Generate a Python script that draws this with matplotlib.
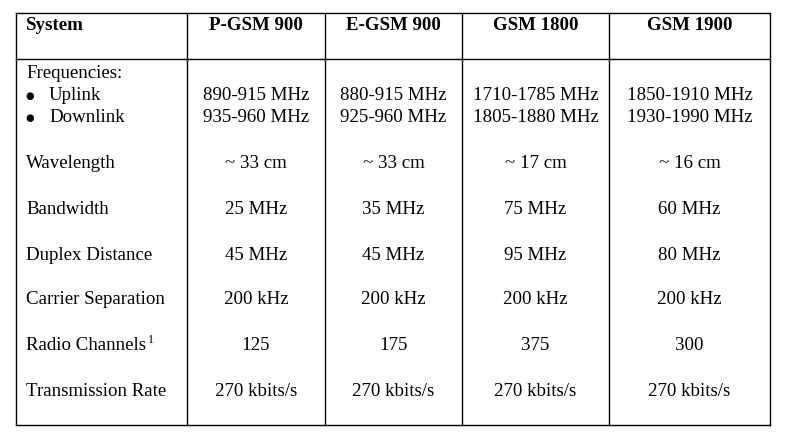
import matplotlib.pyplot as plt

# table contents
systems = ["P-GSM 900", "E-GSM 900", "GSM 1800", "GSM 1900"]
uplink = ["890-915 MHz", "880-915 MHz", "1710-1785 MHz", "1850-1910 MHz"]
downlink = ["935-960 MHz", "925-960 MHz", "1805-1880 MHz", "1930-1990 MHz"]
row_labels = ["Wavelength", "Bandwidth", "Duplex Distance", "Carrier Separation",
              "Radio Channels", "Transmission Rate"]
wavelength = ["~ 33 cm", "~ 33 cm", "~ 17 cm", "~ 16 cm"]
bandwidth = ["25 MHz", "35 MHz", "75 MHz", "60 MHz"]
duplex = ["45 MHz", "45 MHz", "95 MHz", "80 MHz"]
carrier = ["200 kHz", "200 kHz", "200 kHz", "200 kHz"]
channels = ["125", "175", "375", "300"]
rate = ["270 kbits/s", "270 kbits/s", "270 kbits/s", "270 kbits/s"]
rows = [wavelength, bandwidth, duplex, carrier, channels, rate]

# layout in pixels
col_edges = [16, 187, 325, 462, 609, 770]
top, header_bottom, bottom = 13, 59, 425
row_y = [164, 210, 255, 300, 346, 391]
fs = 13.6
font = "Liberation Serif"

fig = plt.figure(figsize=(7.86, 4.38), dpi=100)
ax = fig.add_axes([0, 0, 1, 1])
ax.set_xlim(0, 786)
ax.set_ylim(438, 0)
ax.axis("off")

lw = 1.0
for x in col_edges:
    ax.plot([x, x], [top, bottom], color="black", lw=lw)
for y in [top, header_bottom, bottom]:
    ax.plot([col_edges[0], col_edges[-1]], [y, y], color="black", lw=lw)

centers = [(col_edges[i] + col_edges[i + 1]) / 2 for i in range(1, 5)]

ax.text(26, 26, "System", fontsize=fs, family=font, weight="bold", va="center")
for cx, s in zip(centers, systems):
    ax.text(cx, 26, s, fontsize=fs, family=font, weight="bold", va="center", ha="center")

ax.text(26, 74, "Frequencies:", fontsize=fs, family=font, va="center")
for y, lab in [(96, "Uplink"), (118, "Downlink")]:
    ax.text(25, y, "\u25cf", fontsize=7, family="DejaVu Sans", va="center")
    ax.text(49, y, lab, fontsize=fs, family=font, va="center")
for cx, u, d in zip(centers, uplink, downlink):
    ax.text(cx, 96, u, fontsize=fs, family=font, va="center", ha="center")
    ax.text(cx, 118, d, fontsize=fs, family=font, va="center", ha="center")

for y, lab, vals in zip(row_y, row_labels, rows):
    ax.text(26, y, lab, fontsize=fs, family=font, va="center")
    if lab == "Radio Channels":
        ax.text(148, y - 6, "1", fontsize=8.5, family=font, va="center")
    for cx, v in zip(centers, vals):
        ax.text(cx, y, v, fontsize=fs, family=font, va="center", ha="center")

fig.savefig("out.png", dpi=100, facecolor="white")
